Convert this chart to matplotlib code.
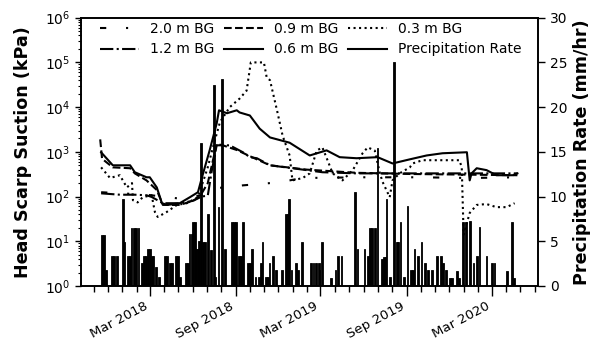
import matplotlib
matplotlib.use("Agg")
import matplotlib.pyplot as plt
import matplotlib.dates as mdates
from matplotlib.lines import Line2D
from matplotlib.ticker import LogLocator, NullFormatter, MultipleLocator
import pandas as pd

# suction sensors at the head scarp (kPa)
bg20_dates = ["2017-11-17", "2018-02-22", "2018-05-04", "2018-06-27", "2018-07-12", "2018-09-16",
              "2018-11-13", "2018-12-25", "2019-01-22", "2019-06-01", "2019-10-01", "2020-01-14",
              "2020-04-25"]
bg20_kpa = [125, 110, 90, 110, 150, 178, 200, 230, 260, 270, 270, 260, 270]

bg12_dates = ["2017-11-17", "2017-12-27", "2018-01-28", "2018-02-22", "2018-03-05", "2018-03-29",
              "2018-05-04", "2018-06-01", "2018-06-20", "2018-07-03", "2018-07-12", "2018-07-22",
              "2018-08-19", "2018-09-16", "2018-10-01", "2018-10-16", "2018-11-13", "2018-12-31",
              "2019-03-05", "2019-05-17", "2019-09-08", "2020-04-25"]
bg12_kpa = [118, 110, 110, 107, 98, 71, 71, 80, 100, 105, 400, 1400,
            1400, 980, 760, 720, 500, 430, 350, 330, 330, 330]

bg09_dates = ["2017-11-15", "2017-11-19", "2017-12-12", "2018-01-18", "2018-01-28", "2018-02-22",
              "2018-03-16", "2018-03-29", "2018-05-04", "2018-06-01", "2018-06-16", "2018-07-03",
              "2018-07-22", "2018-08-04", "2018-09-03", "2018-10-01", "2018-11-13", "2019-01-31",
              "2019-05-17", "2019-09-08", "2020-04-25"]
bg09_kpa = [1900, 700, 450, 430, 330, 230, 140, 65, 65, 80, 100, 200,
            1500, 1400, 1100, 800, 500, 400, 340, 320, 300]

bg06_dates = ["2017-11-17", "2017-12-12", "2018-01-18", "2018-01-28", "2018-02-22", "2018-03-01",
              "2018-03-16", "2018-03-27", "2018-04-08", "2018-05-04", "2018-05-26", "2018-06-12",
              "2018-06-20", "2018-07-07", "2018-07-22", "2018-07-27", "2018-08-13", "2018-09-03",
              "2018-09-09", "2018-10-01", "2018-10-22", "2018-11-13", "2018-12-25", "2019-02-06",
              "2019-03-14", "2019-04-11", "2019-05-17", "2019-07-01", "2019-08-02", "2019-09-08",
              "2019-10-14", "2019-11-17", "2020-01-08", "2020-01-14", "2020-01-18", "2020-01-29",
              "2020-02-19", "2020-03-11", "2020-04-15", "2020-04-25"]
bg06_kpa = [975, 500, 500, 350, 270, 270, 160, 71, 65, 71, 97, 125,
            256, 1080, 4300, 8500, 7300, 8500, 7600, 6500, 3300, 2100, 1600, 830,
            1080, 760, 720, 760, 550, 680, 830, 930, 980, 230, 330, 430,
            390, 300, 300, 330]

bg03_dates = ["2017-11-17", "2017-12-06", "2017-12-27", "2018-01-11", "2018-01-22", "2018-01-24",
              "2018-02-03", "2018-02-14", "2018-03-05", "2018-03-12", "2018-03-18", "2018-04-06",
              "2018-04-28", "2018-05-19", "2018-06-12", "2018-07-03", "2018-07-14", "2018-07-29",
              "2018-08-19", "2018-09-09", "2018-09-24", "2018-10-03", "2018-10-31", "2018-11-06",
              "2018-11-13", "2018-11-28", "2018-12-10", "2018-12-25", "2018-12-31", "2019-01-22",
              "2019-02-06", "2019-02-21", "2019-03-05", "2019-03-16", "2019-03-27", "2019-04-17",
              "2019-05-09", "2019-05-30", "2019-06-10", "2019-06-25", "2019-07-06", "2019-07-12",
              "2019-07-27", "2019-08-02", "2019-08-17", "2019-09-08", "2019-09-14", "2019-10-05",
              "2019-12-23", "2019-12-28", "2020-01-01", "2020-01-14", "2020-01-29", "2020-02-19",
              "2020-03-11", "2020-04-02", "2020-04-19"]
bg03_kpa = [450, 260, 300, 160, 200, 83, 74, 97, 107, 45, 35, 45,
            65, 71, 97, 450, 1260, 4600, 10000, 15500, 23400, 100000, 100000, 46000,
            40000, 8500, 2300, 830, 230, 260, 330, 1070, 1260, 650, 330, 230,
            390, 930, 1260, 1070, 330, 210, 97, 230, 330, 450, 550, 650,
            650, 450, 14, 43, 65, 68, 58, 58, 71]

# precipitation rate (mm/hr)
rain_dates = ["2017-11-19", "2017-11-23", "2017-11-27", "2017-12-10", "2017-12-15", "2017-12-20",
              "2018-01-02", "2018-01-05", "2018-01-13", "2018-01-17", "2018-01-21", "2018-01-26",
              "2018-01-31", "2018-02-05", "2018-02-12", "2018-02-16", "2018-02-21", "2018-02-25",
              "2018-03-01", "2018-03-05", "2018-03-09", "2018-03-14", "2018-03-20", "2018-04-02",
              "2018-04-06", "2018-04-13", "2018-04-17", "2018-04-26", "2018-04-30", "2018-05-04",
              "2018-05-17", "2018-05-21", "2018-05-25", "2018-05-30", "2018-06-01", "2018-06-05",
              "2018-06-08", "2018-06-12", "2018-06-15", "2018-06-18", "2018-06-22", "2018-06-27",
              "2018-07-03", "2018-07-09", "2018-07-16", "2018-07-19", "2018-07-26", "2018-08-02",
              "2018-08-08", "2018-08-23", "2018-08-28", "2018-09-02", "2018-09-07", "2018-09-12",
              "2018-09-17", "2018-09-27", "2018-10-01", "2018-10-05", "2018-10-13", "2018-10-20",
              "2018-10-24", "2018-10-28", "2018-11-04", "2018-11-08", "2018-11-12", "2018-11-19",
              "2018-11-25", "2018-12-08", "2018-12-17", "2018-12-21", "2018-12-23", "2018-12-29",
              "2019-01-07", "2019-01-11", "2019-01-20", "2019-02-08", "2019-02-14", "2019-02-20",
              "2019-02-25", "2019-02-27", "2019-03-04", "2019-03-23", "2019-04-02", "2019-04-07",
              "2019-04-15", "2019-05-13", "2019-05-19", "2019-06-03", "2019-06-10", "2019-06-14",
              "2019-06-19", "2019-06-25", "2019-07-01", "2019-07-10", "2019-07-14", "2019-07-18",
              "2019-07-20", "2019-07-27", "2019-08-05", "2019-08-11", "2019-08-13", "2019-08-19",
              "2019-08-26", "2019-09-03", "2019-09-10", "2019-09-14", "2019-09-18", "2019-09-25",
              "2019-10-03", "2019-10-10", "2019-10-16", "2019-10-25", "2019-11-06", "2019-11-13",
              "2019-11-17", "2019-11-24", "2019-12-02", "2019-12-08", "2019-12-17", "2019-12-23",
              "2019-12-30", "2020-01-07", "2020-01-14", "2020-01-22", "2020-01-29", "2020-02-04",
              "2020-02-19", "2020-03-01", "2020-03-07", "2020-04-02", "2020-04-13", "2020-04-17"]
rain_rate = [5.7, 5.7, 1.8, 3.3, 3.3, 3.3,
             9.7, 4.9, 3.3, 3.3, 6.5, 6.5,
             6.5, 6.5, 2.6, 3.3, 3.3, 4.1,
             4.1, 3.3, 3.3, 2.1, 1.0, 3.3,
             3.3, 2.6, 2.6, 3.3, 3.3, 1.0,
             2.6, 2.6, 5.8, 5.8, 7.2, 7.2,
             4.1, 4.1, 5.0, 16.0, 4.9, 4.9,
             8.1, 4.0, 22.5, 1.0, 8.8, 23.2,
             4.1, 7.2, 7.2, 7.2, 3.3, 3.3,
             7.2, 2.6, 2.6, 4.1, 1.0, 1.0,
             2.6, 4.9, 1.0, 1.0, 2.6, 3.3,
             1.8, 1.8, 8.1, 8.1, 9.7, 1.8,
             2.6, 1.8, 4.9, 2.6, 2.6, 2.6,
             2.6, 1.8, 4.9, 0.9, 1.8, 3.3,
             3.3, 10.5, 4.1, 4.1, 3.3, 6.5,
             6.5, 6.5, 15.4, 3.0, 3.2, 3.2,
             9.7, 1.0, 25.0, 4.9, 4.9, 7.2,
             1.0, 8.9, 1.8, 1.8, 4.1, 3.3,
             4.9, 2.6, 1.8, 1.8, 3.4, 3.4,
             2.6, 1.8, 0.9, 0.9, 1.7, 0.9,
             7.2, 7.2, 7.3, 2.6, 3.3, 6.6,
             3.4, 2.6, 2.6, 1.7, 7.2, 0.9]

fig = plt.figure(figsize=(5.94, 3.43), dpi=100)
ax = fig.add_axes([0.1364, 0.1662, 0.7693, 0.7822])
ax2 = ax.twinx()

lw = 1.5
l20, = ax.plot(pd.to_datetime(bg20_dates), bg20_kpa, color="black", lw=lw,
               ls=(0, (3, 9.5, 1, 9.5)), label="2.0 m BG")
l12, = ax.plot(pd.to_datetime(bg12_dates), bg12_kpa, color="black", lw=lw, ls="-.", label="1.2 m BG")
l09, = ax.plot(pd.to_datetime(bg09_dates), bg09_kpa, color="black", lw=lw, ls="--", label="0.9 m BG")
l06, = ax.plot(pd.to_datetime(bg06_dates), bg06_kpa, color="black", lw=lw, ls="-", label="0.6 m BG")
l03, = ax.plot(pd.to_datetime(bg03_dates), bg03_kpa, color="black", lw=lw, ls=":", label="0.3 m BG")

ax2.bar(pd.to_datetime(rain_dates), rain_rate, width=4, color="black", edgecolor="black", lw=0.6)
rain_handle = Line2D([], [], color="black", lw=lw, label="Precipitation Rate")

ax.set_yscale("log")
ax.set_ylim(1, 1e6)
ax.yaxis.set_major_locator(LogLocator(base=10, numticks=10))
ax.yaxis.set_minor_locator(LogLocator(base=10, subs=range(2, 10), numticks=20))
ax.yaxis.set_minor_formatter(NullFormatter())
ax2.set_ylim(0, 30)
ax2.yaxis.set_major_locator(MultipleLocator(5))

ax.set_xlim(pd.Timestamp("2017-10-05"), pd.Timestamp("2020-06-08"))
ax.xaxis.set_major_locator(mdates.MonthLocator(bymonth=(3, 9)))
ax.xaxis.set_minor_locator(mdates.MonthLocator())
ax.xaxis.set_major_formatter(mdates.DateFormatter("%b %Y"))
for t in ax.get_xticklabels():
    t.set_rotation(28)
    t.set_ha("right")

# tick lengths in points (figure is 100 dpi)
ax.tick_params(axis="x", which="major", length=7.2, width=1, pad=2.5, labelsize=9.5)
ax.tick_params(axis="x", which="minor", length=4, width=1)
ax.tick_params(axis="y", which="major", length=4.5, width=1, labelsize=10)
ax.tick_params(axis="y", which="minor", length=2.5, width=0.8)
ax2.tick_params(axis="y", length=5, width=1, labelsize=10)
for a in (ax, ax2):
    for s in a.spines.values():
        s.set_linewidth(1.2)

ax.set_ylabel("Head Scarp Suction (kPa)", fontsize=12.6, fontweight="bold")
ax.yaxis.set_label_coords(-0.108, 0.5)
ax2.set_ylabel("Precipitation Rate (mm/hr)", fontsize=12.6, fontweight="bold")

ax2.legend(handles=[l20, l12, l09, l06, l03, rain_handle], ncol=3, frameon=False, fontsize=10,
           loc="upper left", bbox_to_anchor=(0.03, 1.004), borderaxespad=0,
           handlelength=2.8, handletextpad=0.8, columnspacing=0.7, labelspacing=0.45)

fig.savefig("out.png", dpi=100)
